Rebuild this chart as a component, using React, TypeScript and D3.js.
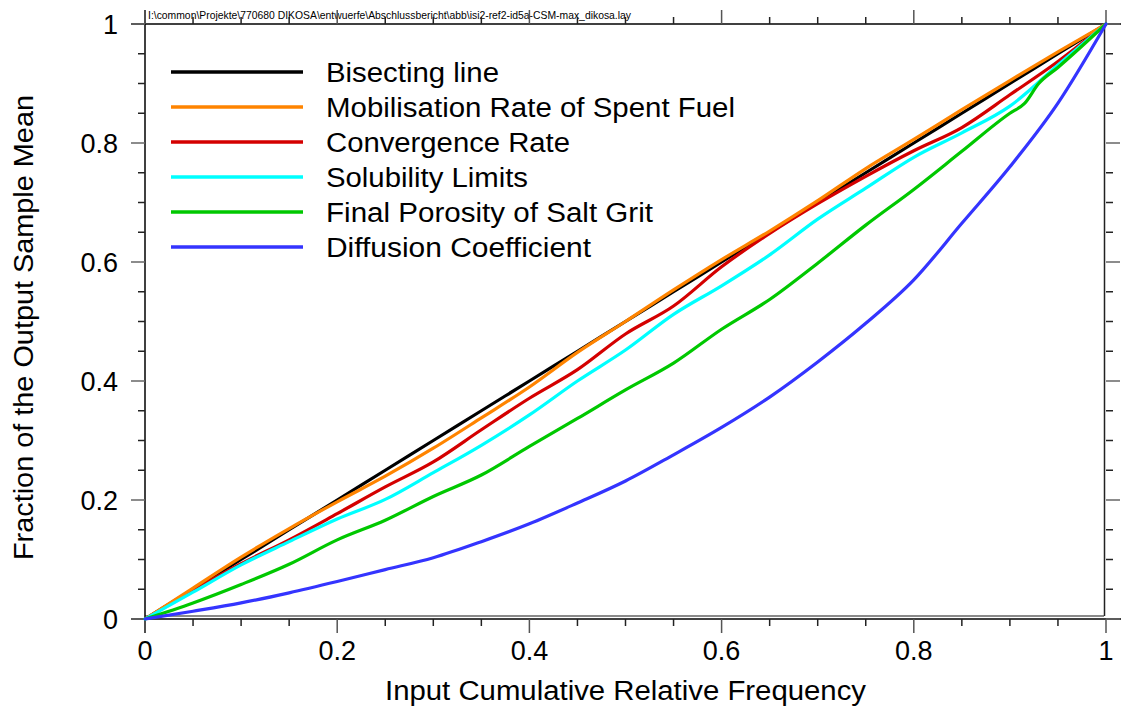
import React from "react";
import * as d3 from "d3";

// Input cumulative relative frequency (common grid for most series)
const xGrid = [0, 0.05, 0.1, 0.15, 0.2, 0.25, 0.3, 0.35, 0.4, 0.45, 0.5, 0.55, 0.6, 0.65, 0.7, 0.75, 0.8, 0.85, 0.9, 0.95, 1];

const bisectingLine = xGrid.slice();
const mobilisationRate = [0, 0.052, 0.104, 0.152, 0.197, 0.24, 0.287, 0.338, 0.39, 0.448, 0.5, 0.553, 0.604, 0.652, 0.703, 0.757, 0.806, 0.856, 0.905, 0.953, 1];
const convergenceRate = [0, 0.048, 0.093, 0.133, 0.177, 0.222, 0.264, 0.318, 0.371, 0.419, 0.479, 0.526, 0.592, 0.648, 0.698, 0.744, 0.787, 0.826, 0.881, 0.937, 1];
const solubilityLimits = [0, 0.045, 0.091, 0.13, 0.168, 0.201, 0.246, 0.292, 0.343, 0.4, 0.452, 0.512, 0.56, 0.612, 0.672, 0.724, 0.776, 0.817, 0.862, 0.931, 1];
const porosityX = [0, 0.05, 0.1, 0.15, 0.2, 0.25, 0.3, 0.35, 0.4, 0.45, 0.5, 0.55, 0.6, 0.65, 0.7, 0.75, 0.8, 0.85, 0.9, 0.915, 0.93, 0.95, 1];
const finalPorosity = [0, 0.027, 0.058, 0.092, 0.133, 0.166, 0.206, 0.242, 0.29, 0.337, 0.385, 0.43, 0.487, 0.537, 0.598, 0.662, 0.722, 0.786, 0.85, 0.866, 0.9, 0.927, 1];
const diffusionCoefficient = [0, 0.013, 0.027, 0.044, 0.063, 0.083, 0.103, 0.13, 0.16, 0.195, 0.232, 0.276, 0.322, 0.373, 0.432, 0.497, 0.57, 0.665, 0.76, 0.867, 1];

const seriesNames = [
  "Bisecting line",
  "Mobilisation Rate of Spent Fuel",
  "Convergence Rate",
  "Solubility Limits",
  "Final Porosity of Salt Grit",
  "Diffusion Coefficient",
];
const seriesColors = ["#000000", "#ff8400", "#d40000", "#00ffff", "#00c800", "#3434ff"];
// rendered widths of the legend entries
const legendWidths = [173, 409, 244, 202, 327, 265];

const xTickLabels = ["0", "0.2", "0.4", "0.6", "0.8", "1"];
const yTickLabels = ["0", "0.2", "0.4", "0.6", "0.8", "1"];

const filePath = "I:\\common\\Projekte\\770680 DIKOSA\\entwuerfe\\Abschlussbericht\\abb\\isi2-ref2-id5a-CSM-max_dikosa.lay";

const W = 1129;
const H = 711;
const left = 145;
const right = 1106;
const top = 24;
const bottom = 619;
const FONT = "'Liberation Sans', Arial, sans-serif";

export default function App() {
  const x = d3.scaleLinear().domain([0, 1]).range([left, right]);
  const y = d3.scaleLinear().domain([0, 1]).range([bottom, top]);

  const toPts = (xs: number[], ys: number[]) => xs.map((v, i) => [v, ys[i]] as [number, number]);
  const series = [
    { name: seriesNames[0], color: seriesColors[0], pts: toPts(xGrid, bisectingLine) },
    { name: seriesNames[1], color: seriesColors[1], pts: toPts(xGrid, mobilisationRate) },
    { name: seriesNames[2], color: seriesColors[2], pts: toPts(xGrid, convergenceRate) },
    { name: seriesNames[3], color: seriesColors[3], pts: toPts(xGrid, solubilityLimits) },
    { name: seriesNames[4], color: seriesColors[4], pts: toPts(porosityX, finalPorosity) },
    { name: seriesNames[5], color: seriesColors[5], pts: toPts(xGrid, diffusionCoefficient) },
  ];
  // paint order: bisecting line underneath, red under orange, the rest on top
  const drawOrder = [0, 2, 1, 3, 4, 5];

  const line = d3
    .line<[number, number]>()
    .x((d) => x(d[0]))
    .y((d) => y(d[1]))
    .curve(d3.curveMonotoneX);

  const minor = d3.range(0, 1.0001, 0.05);
  const major = d3.range(0, 1.0001, 0.2);
  const isMajor = (v: number) => Math.abs(v * 5 - Math.round(v * 5)) < 1e-6;

  const tickColor = "#222";
  const majLen = 14;
  const minLen = 7;

  return (
    <svg width={W} height={H} style={{ position: "absolute", left: 0, top: 0, background: "#fff" }} fontFamily={FONT}>
      <rect x={0} y={0} width={W} height={H} fill="#fff" />

      {/* file path header */}
      <text x={148} y={19} fontSize={10.2} fill="#000" textLength={483} lengthAdjust="spacingAndGlyphs">
        {filePath}
      </text>

      {/* plot frame */}
      <line x1={left} x2={right - 2} y1={bottom - 3} y2={bottom - 3} stroke="#8a8a8a" strokeWidth={2} />
      <line x1={right - 1.5} x2={right - 1.5} y1={top} y2={bottom - 3} stroke="#222" strokeWidth={1.5} />

      {/* axes lines */}
      <line x1={left - majLen} x2={right + majLen + 1} y1={bottom} y2={bottom} stroke="#000" strokeWidth={1.5} />
      <line x1={left - majLen} x2={right + majLen + 1} y1={top} y2={top} stroke="#000" strokeWidth={1.5} />
      <line x1={left} x2={left} y1={top - majLen} y2={bottom + majLen} stroke="#000" strokeWidth={1.5} />

      {/* x ticks: bottom (down) and top (up) */}
      {minor.map((v, i) => {
        const len = isMajor(v) ? majLen : minLen;
        const px = x(v);
        return (
          <g key={"xt" + i}>
            <line x1={px} x2={px} y1={bottom} y2={bottom + len} stroke={isMajor(v) ? "#555" : tickColor} strokeWidth={1.5} />
            <line x1={px} x2={px} y1={top} y2={top - len} stroke={isMajor(v) ? "#555" : tickColor} strokeWidth={1.5} />
          </g>
        );
      })}
      {/* y ticks: left (outward) and right (outward) */}
      {minor.map((v, i) => {
        const len = isMajor(v) ? majLen : minLen;
        const py = y(v);
        return (
          <g key={"yt" + i}>
            <line x1={left} x2={left - len} y1={py} y2={py} stroke={isMajor(v) ? "#666" : tickColor} strokeWidth={1.5} />
            <line x1={right} x2={right + len} y1={py} y2={py} stroke={isMajor(v) ? "#666" : tickColor} strokeWidth={1.5} />
          </g>
        );
      })}

      {/* tick labels */}
      {major.map((v, i) => (
        <text key={"xl" + i} x={x(v)} y={660} fontSize={27} textAnchor="middle" fill="#000">
          {xTickLabels[i]}
        </text>
      ))}
      {major.map((v, i) => (
        <text key={"yl" + i} x={118} y={y(v) + 9.5} fontSize={27} textAnchor="end" fill="#000">
          {yTickLabels[i]}
        </text>
      ))}

      {/* axis titles */}
      <text x={385} y={700} fontSize={27} fill="#000" textLength={481} lengthAdjust="spacingAndGlyphs">
        Input Cumulative Relative Frequency
      </text>
      <text
        transform="translate(33, 560) rotate(-90)"
        fontSize={27}
        fill="#000"
        textLength={465}
        lengthAdjust="spacingAndGlyphs"
      >
        Fraction of the Output Sample Mean
      </text>

      {/* curves */}
      <g fill="none" strokeWidth={3.2} strokeLinejoin="round" strokeLinecap="round">
        {drawOrder.map((k) => (
          <path key={"s" + k} d={line(series[k].pts) || ""} stroke={series[k].color} />
        ))}
      </g>

      {/* legend */}
      {series.map((s, i) => {
        const ly = 72 + i * 35;
        return (
          <g key={"lg" + i}>
            <line x1={171} x2={303} y1={ly} y2={ly} stroke={s.color} strokeWidth={3.3} />
            <text x={326} y={ly + 9.5} fontSize={27} fill="#000" textLength={legendWidths[i]} lengthAdjust="spacingAndGlyphs">
              {s.name}
            </text>
          </g>
        );
      })}
    </svg>
  );
}
